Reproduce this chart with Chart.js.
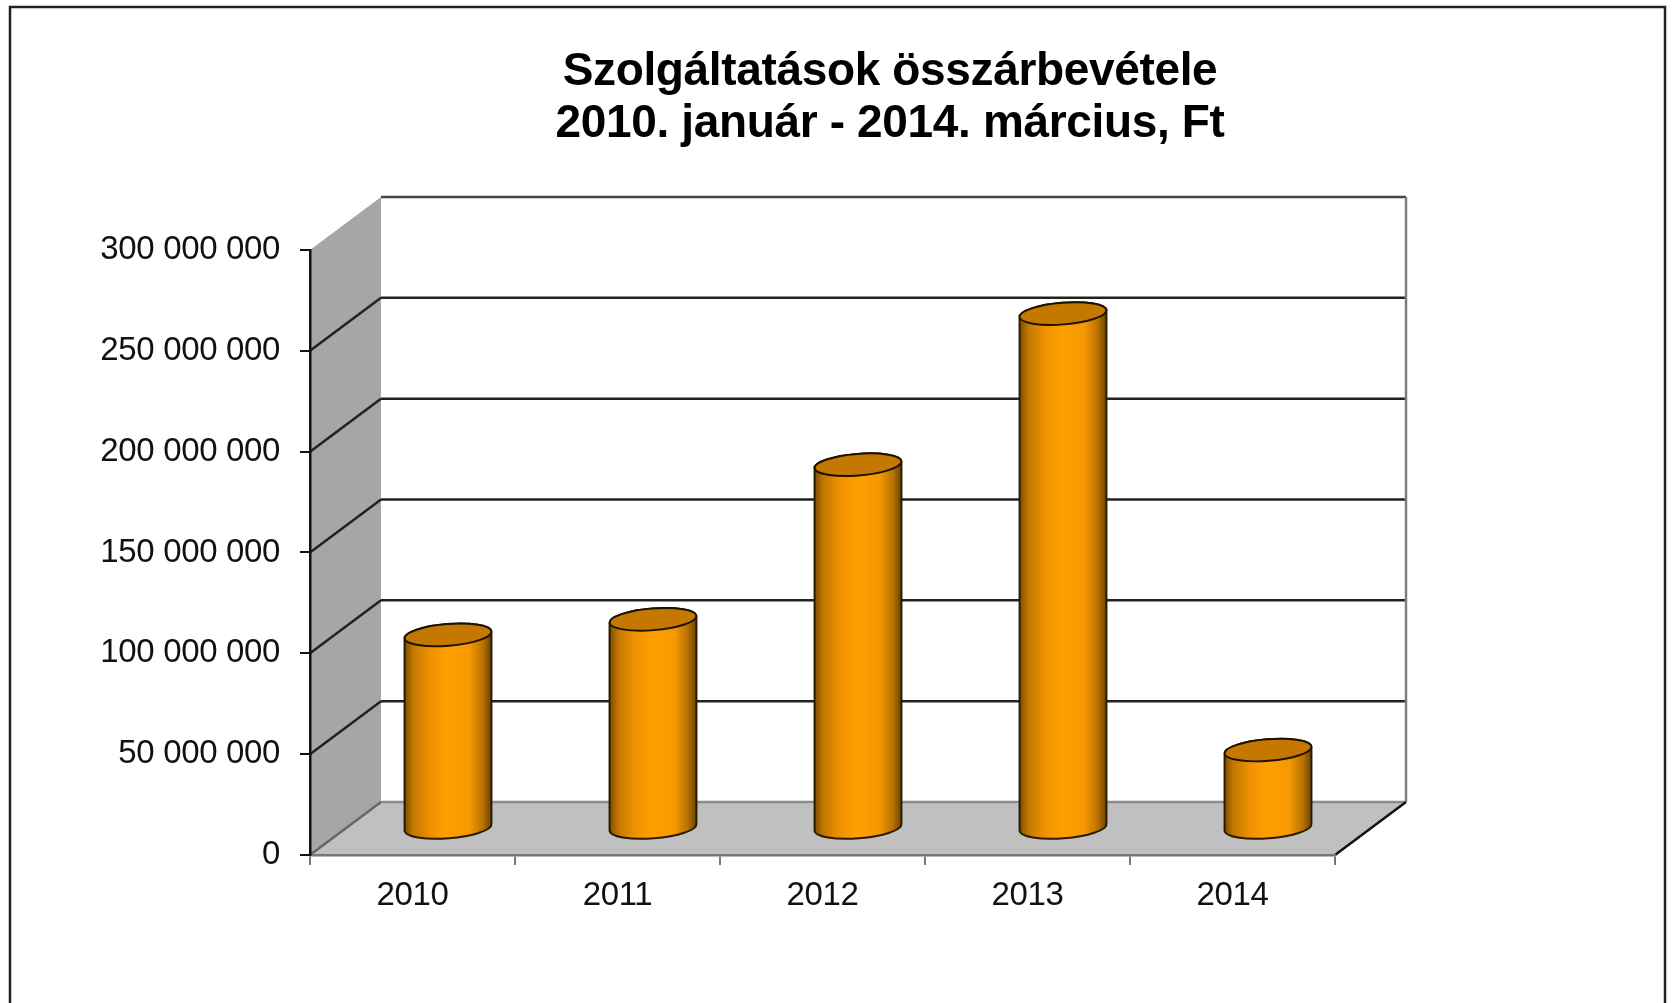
<!DOCTYPE html>
<html lang="hu">
<head>
<meta charset="utf-8">
<title>Szolgáltatások összárbevétele</title>
<style>
    html, body { margin: 0; padding: 0; background: #fff; overflow: hidden; }
    #wrap { width: 1673px; height: 1003px; }
    /* a minta felnagyított, kissé elmosódott kép */
    #chart { filter: blur(0.5px); }
</style>
<script src="https://cdn.jsdelivr.net/npm/chart.js@4/dist/chart.umd.min.js"></script>
</head>
<body>
<div id="wrap"><canvas id="chart" width="1673" height="1003"></canvas></div>
<script>
const categories = ["2010", "2011", "2012", "2013", "2014"];
const revenue = [96000000, 103700000, 180400000, 255300000, 38900000];
const yTickLabels = ["0", "50 000 000", "100 000 000", "150 000 000", "200 000 000", "250 000 000", "300 000 000"];
const titleLines = ["Szolgáltatások összárbevétele", "2010. január - 2014. március, Ft"];

// eltolás a hátsó falig
const depthX = 71;
const depthY = 53;

// keret, falak, padló és a hátsó rácsvonalak
const boxPlugin = {
    id: "box3d",
    beforeDraw(chart) {
        const ctx = chart.ctx;
        const a = chart.chartArea;
        const y = chart.scales.y;

        // szorosabb betűköz minden szövegre
        ctx.letterSpacing = "-0.35px";

        ctx.save();

        ctx.strokeStyle = "#222";
        ctx.lineWidth = 2.5;
        ctx.strokeRect(10, 7, 1655, 1100);

        // oldalfal
        ctx.fillStyle = "#a6a6a6";
        ctx.beginPath();
        ctx.moveTo(a.left, a.top);
        ctx.lineTo(a.left + depthX, a.top - depthY);
        ctx.lineTo(a.left + depthX, a.bottom - depthY);
        ctx.lineTo(a.left, a.bottom);
        ctx.closePath();
        ctx.fill();

        // padló
        ctx.fillStyle = "#c0c0c0";
        ctx.beginPath();
        ctx.moveTo(a.left, a.bottom);
        ctx.lineTo(a.left + depthX, a.bottom - depthY);
        ctx.lineTo(a.right + depthX, a.bottom - depthY);
        ctx.lineTo(a.right, a.bottom);
        ctx.closePath();
        ctx.fill();

        // rácsvonalak a skálából
        y.ticks.forEach((tick) => {
            const py = y.getPixelForValue(tick.value);
            const isFloor = tick.value === 0;
            const isTop = tick.value === y.max;
            ctx.lineWidth = 2.5;
            // a legfelső vonalnak nincs átlós szakasza az oldalfalon
            if (!isTop) {
                ctx.strokeStyle = isFloor ? "#666" : "#222";
                ctx.beginPath();
                ctx.moveTo(a.left, py);
                ctx.lineTo(a.left + depthX, py - depthY);
                ctx.stroke();
            }
            ctx.strokeStyle = isFloor ? "#8c8c8c" : isTop ? "#444" : "#222";
            ctx.beginPath();
            ctx.moveTo(a.left + depthX, py - depthY);
            ctx.lineTo(a.right + depthX, py - depthY);
            ctx.stroke();
        });

        // hátsó jobb él és a padló jobb éle
        ctx.strokeStyle = "#808080";
        ctx.lineWidth = 2.5;
        ctx.beginPath();
        ctx.moveTo(a.right + depthX, a.top - depthY);
        ctx.lineTo(a.right + depthX, a.bottom - depthY);
        ctx.stroke();
        ctx.strokeStyle = "#111";
        ctx.beginPath();
        ctx.moveTo(a.right, a.bottom);
        ctx.lineTo(a.right + depthX, a.bottom - depthY);
        ctx.stroke();

        ctx.restore();
    }
};

// hengerek az oszlopelemek helyzetéből
const cylinderPlugin = {
    id: "cylinders",
    afterDatasetsDraw(chart) {
        const ctx = chart.ctx;
        const tilt = -4.5 * Math.PI / 180;
        chart.getDatasetMeta(0).data.forEach((bar) => {
            const cx = bar.x + depthX / 2;
            const top = bar.y - depthY / 2;
            const bottom = bar.base - depthY / 2;
            const rx = bar.width / 2;
            const ry = 10.8;
            const dx = rx * Math.cos(tilt);
            const dy = rx * Math.sin(tilt);

            const grad = ctx.createLinearGradient(cx - rx, 0, cx + rx, 0);
            grad.addColorStop(0, "#7a4c00");
            grad.addColorStop(0.1, "#c27800");
            grad.addColorStop(0.3, "#f09200");
            grad.addColorStop(0.5, "#ffa000");
            grad.addColorStop(0.75, "#f59700");
            grad.addColorStop(0.9, "#b87200");
            grad.addColorStop(1, "#6b4300");

            ctx.save();
            ctx.beginPath();
            ctx.moveTo(cx - dx, top - dy);
            ctx.lineTo(cx - dx, bottom - dy);
            ctx.ellipse(cx, bottom, rx, ry, tilt, Math.PI, 0, true);
            ctx.lineTo(cx + dx, top + dy);
            ctx.ellipse(cx, top, rx, ry, tilt, 0, Math.PI, true);
            ctx.closePath();
            ctx.fillStyle = grad;
            ctx.fill();
            ctx.strokeStyle = "#2a1a00";
            ctx.lineWidth = 2;
            ctx.stroke();

            ctx.beginPath();
            ctx.ellipse(cx, top, rx, ry, tilt, 0, Math.PI * 2);
            ctx.fillStyle = "#c47800";
            ctx.fill();
            ctx.strokeStyle = "#1c1200";
            ctx.lineWidth = 2;
            ctx.stroke();
            ctx.restore();
        });
    }
};

// a cím nem a rajzterület közepén van
const titleShiftPlugin = {
    id: "titleShift",
    afterLayout(chart) {
        const shift = 890 - (chart.titleBlock.left + chart.titleBlock.right) / 2;
        chart.titleBlock.left += shift;
        chart.titleBlock.right += shift;
    }
};

document.addEventListener("DOMContentLoaded", function () {
    new Chart(document.getElementById("chart"), {
        type: "bar",
        data: {
            labels: categories,
            datasets: [{
                label: "Összárbevétel",
                data: revenue,
                backgroundColor: "transparent",
                barPercentage: 0.425,
                categoryPercentage: 1
            }]
        },
        plugins: [boxPlugin, cylinderPlugin, titleShiftPlugin],
        options: {
            responsive: false,
            animation: false,
            layout: { padding: { top: 46, right: 338, left: 0, bottom: 0 } },
            plugins: {
                legend: { display: false },
                tooltip: { enabled: false },
                title: {
                    display: true,
                    text: titleLines,
                    color: "#000",
                    font: { family: "'Liberation Sans', Arial, sans-serif", size: 46, weight: "bold", lineHeight: 1.13 },
                    padding: { top: 0, bottom: 100 }
                }
            },
            scales: {
                x: {
                    grid: { drawOnChartArea: false, drawTicks: true, tickLength: 10, tickColor: "#777", lineWidth: 2 },
                    border: { color: "#777", width: 2.5 },
                    ticks: {
                        color: "#111",
                        padding: 11,
                        maxRotation: 0,
                        font: { family: "'Liberation Sans', Arial, sans-serif", size: 33 }
                    },
                    afterFit(scale) { scale.height = 148; }
                },
                y: {
                    min: 0,
                    max: 300000000,
                    grid: { drawOnChartArea: false, drawTicks: true, tickLength: 10, tickColor: "#111", lineWidth: 2 },
                    border: { color: "#111", width: 2.5 },
                    ticks: {
                        stepSize: 50000000,
                        color: "#111",
                        padding: 20,
                        font: { family: "'Liberation Sans', Arial, sans-serif", size: 33 },
                        callback: (value, index) => yTickLabels[index]
                    },
                    afterFit(scale) { scale.width = 310; }
                }
            }
        }
    });
});
</script>
</body>
</html>
